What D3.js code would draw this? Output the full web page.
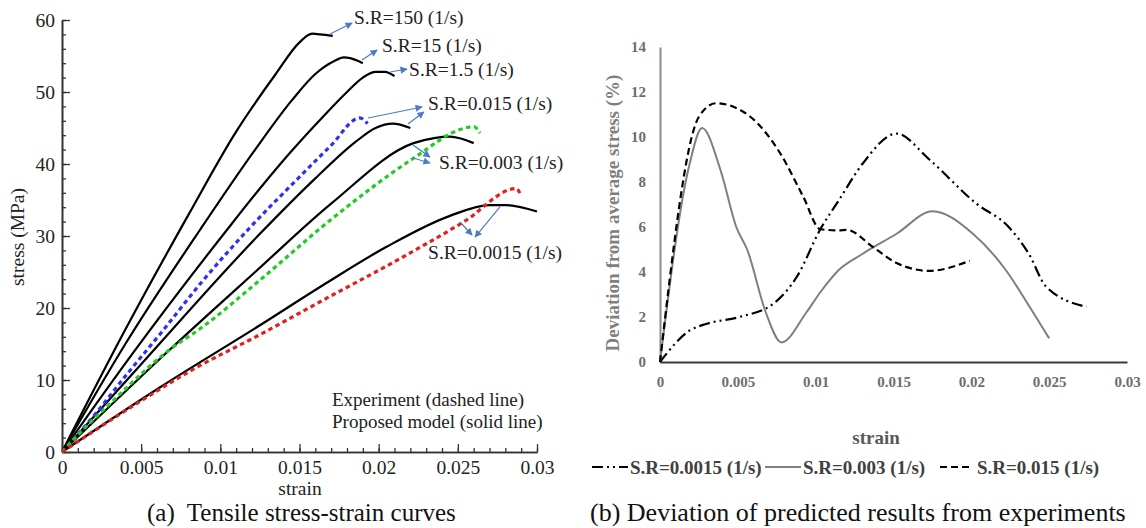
<!DOCTYPE html>
<html>
<head>
<meta charset="utf-8">
<script src="https://cdn.jsdelivr.net/npm/d3@7"></script>
<style>
  body { margin: 0; background: #fff; }
  svg { display: block; font-family: "Liberation Serif", "Times New Roman", serif; }
</style>
</head>
<body>
<svg id="chart" width="1146" height="528"></svg>
<script>
// ---------- panel (a): tensile stress-strain curves ----------
// proposed model (solid lines)
var model150Strain = [0, 0.004, 0.008, 0.011, 0.0135, 0.015, 0.0158, 0.0163, 0.0171];
var model150Stress = [0, 17.0, 33.0, 44.5, 52.5, 56.9, 58.1, 58.0, 57.8];
var model15Strain = [0, 0.004, 0.0087, 0.0122, 0.0145, 0.016, 0.0172, 0.0178, 0.0182, 0.019];
var model15Stress = [0, 15.0, 30.8, 42.0, 48.8, 52.5, 54.3, 54.8, 54.7, 54.0];
var model1p5Strain = [0, 0.0045, 0.0104, 0.0125, 0.0145, 0.0165, 0.018, 0.019, 0.0198, 0.0204, 0.021];
var model1p5Stress = [0, 13.8, 30.8, 36.6, 41.8, 46.6, 50.0, 52.0, 52.8, 52.8, 52.2];
var model015Strain = [0, 0.005, 0.0125, 0.016, 0.0185, 0.0198, 0.0209, 0.022];
var model015Stress = [0, 12.2, 30.3, 38.0, 43.0, 45.0, 45.6, 45.0];
var model003Strain = [0, 0.0068, 0.0122, 0.017, 0.0222, 0.0235, 0.0245, 0.026];
var model003Stress = [0, 14.2, 25.0, 34.5, 42.9, 43.6, 43.8, 42.9];
var model0015Strain = [0, 0.0062, 0.0125, 0.0165, 0.0205, 0.0245, 0.027, 0.028, 0.03];
var model0015Stress = [0, 9.0, 17.6, 23.2, 28.5, 32.8, 34.3, 34.3, 33.4];

// experiment (dashed lines)
var exp015Strain = [0, 0.002, 0.0041, 0.0062, 0.0089, 0.0118, 0.015, 0.017, 0.0188, 0.0193];
var exp015Stress = [0, 5.0, 10.8, 16.4, 23.8, 31.0, 38.2, 42.6, 46.4, 45.6];
var exp003Strain = [0, 0.0011, 0.0026, 0.0068, 0.0089, 0.0123, 0.017, 0.0222, 0.0253, 0.026, 0.0264];
var exp003Stress = [0, 2.6, 5.8, 14.2, 17.4, 23.5, 32.3, 40.8, 44.9, 45.2, 44.3];
var exp0015Strain = [0, 0.0047, 0.0083, 0.0125, 0.0165, 0.0213, 0.0254, 0.0287, 0.029];
var exp0015Stress = [0, 6.7, 11.5, 16.3, 21.1, 26.8, 32.0, 36.6, 35.5];

// annotation labels: text, anchor strain, anchor stress
var rateLabels = ["S.R=150 (1/s)", "S.R=15 (1/s)", "S.R=1.5 (1/s)", "S.R=0.015 (1/s)", "S.R=0.003 (1/s)", "S.R=0.0015 (1/s)"];
var rateLabelStrain = [0.01844, 0.02021, 0.02192, 0.02312, 0.02381, 0.02312];
var rateLabelStress = [60.4, 56.5, 53.2, 48.5, 40.3, 27.8];
// arrows: [from strain, from stress, to strain, to stress]
var arrows = [
  [0.01693, 58.06, 0.01832, 59.58],
  [0.01895, 54.44, 0.0199, 55.83],
  [0.02072, 52.78, 0.02179, 53.19],
  [0.01933, 46.39, 0.02274, 47.92],
  [0.02185, 45.56, 0.02286, 47.22],
  [0.02217, 42.64, 0.02324, 40.97],
  [0.02217, 40.83, 0.02324, 40.14],
  [0.02514, 31.94, 0.0259, 30.14],
  [0.02766, 34.03, 0.02609, 29.86]
];

var xTicksA = [0, 0.005, 0.01, 0.015, 0.02, 0.025, 0.03];
var xTickLabelsA = ["0", "0.005", "0.01", "0.015", "0.02", "0.025", "0.03"];
var yTicksA = [0, 10, 20, 30, 40, 50, 60];

// ---------- panel (b): deviation from average stress ----------
var dev0015Strain = [0, 0.0019, 0.003, 0.0051, 0.0073, 0.0088, 0.0103, 0.0115, 0.013, 0.0152, 0.0173, 0.0203, 0.0224, 0.0237, 0.0248, 0.0274];
var dev0015Value = [0, 1.4, 1.7, 2.0, 2.6, 3.8, 5.9, 7.2, 8.8, 10.15, 9.0, 7.05, 6.0, 4.8, 3.35, 2.45];
var dev003Strain = [0, 0.0019, 0.0027, 0.0039, 0.0049, 0.0056, 0.0068, 0.0078, 0.0094, 0.0103, 0.0115, 0.013, 0.0152, 0.0175, 0.0201, 0.0222, 0.0237, 0.025];
var dev003Value = [0, 8.8, 10.4, 8.5, 6.0, 5.0, 2.2, 0.87, 2.2, 3.1, 4.1, 4.8, 5.7, 6.7, 5.7, 4.1, 2.5, 1.05];
var dev015Strain = [0, 0.0025, 0.0036, 0.0058, 0.0077, 0.0092, 0.0103, 0.0115, 0.012, 0.0137, 0.0152, 0.0173, 0.0199];
var dev015Value = [0, 10.9, 11.5, 10.9, 9.3, 7.35, 5.9, 5.85, 5.87, 5.1, 4.4, 4.05, 4.5];

var xTicksB = [0, 0.005, 0.01, 0.015, 0.02, 0.025, 0.03];
var xTickLabelsB = ["0", "0.005", "0.01", "0.015", "0.02", "0.025", "0.03"];
var yTicksB = [0, 2, 4, 6, 8, 10, 12, 14];
var legendNames = ["S.R=0.0015 (1/s)", "S.R=0.003 (1/s)", "S.R=0.015 (1/s)"];

var svg = d3.select("#chart");

// helper to zip two arrays into points
function zip(xs, ys) {
    return xs.map(function (x, i) { return [x, ys[i]]; });
}

// ===== panel (a) =====
var xA = d3.scaleLinear().domain([0, 0.03]).range([62, 537]);
var yA = d3.scaleLinear().domain([0, 60]).range([452, 20]);

var lineA = d3.line()
    .x(d => xA(d[0]))
    .y(d => yA(d[1]))
    .curve(d3.curveMonotoneX);

// minor ticks first (pointing inward)
svg.append("g")
    .attr("transform", "translate(62,0)")
    .call(d3.axisLeft(yA).tickValues(d3.range(0, 61, 2)).tickSize(-4).tickSizeOuter(0).tickFormat(""));
svg.append("g")
    .attr("transform", "translate(0,452)")
    .call(d3.axisBottom(xA).tickValues(d3.range(0, 31, 1).map(d => d / 1000)).tickSize(-4).tickSizeOuter(0).tickFormat(""));

var yAxisA = svg.append("g")
    .attr("transform", "translate(62,0)")
    .call(d3.axisLeft(yA).tickValues(yTicksA).tickSize(-8).tickSizeOuter(0).tickPadding(7));
var xAxisA = svg.append("g")
    .attr("transform", "translate(0,452)")
    .call(d3.axisBottom(xA).tickValues(xTicksA).tickSize(-8).tickSizeOuter(0).tickPadding(8)
        .tickFormat((d, i) => xTickLabelsA[i]));

svg.selectAll("g").selectAll("path.domain").attr("stroke", "#333").attr("stroke-width", 1.6);
svg.selectAll("g").selectAll(".tick line").attr("stroke", "#333").attr("stroke-width", 1.3);
[yAxisA, xAxisA].forEach(function (ax) {
    ax.attr("font-family", null);
    ax.selectAll("text")
        .attr("fill", "#222")
        .style("font-size", "19.5px");
});

// model curves (solid black)
var models = [
    zip(model150Strain, model150Stress),
    zip(model15Strain, model15Stress),
    zip(model1p5Strain, model1p5Stress),
    zip(model015Strain, model015Stress),
    zip(model003Strain, model003Stress),
    zip(model0015Strain, model0015Stress)
];
models.forEach(function (pts) {
    svg.append("path")
        .attr("d", lineA(pts))
        .attr("fill", "none")
        .attr("stroke", "#000")
        .attr("stroke-width", 2.2);
});

// experiment curves (coloured dashes)
var exps = [
    { pts: zip(exp015Strain, exp015Stress), color: "#2f2ff5" },
    { pts: zip(exp003Strain, exp003Stress), color: "#1fcc1f" },
    { pts: zip(exp0015Strain, exp0015Stress), color: "#e41d1d" }
];
exps.forEach(function (e) {
    svg.append("path")
        .attr("d", lineA(e.pts))
        .attr("fill", "none")
        .attr("stroke", e.color)
        .attr("stroke-width", 3.2)
        .attr("stroke-dasharray", "4.5,3.5");
});

// arrow marker
svg.append("defs").append("marker")
    .attr("id", "arrowHead")
    .attr("viewBox", "0 0 10 10")
    .attr("refX", 9).attr("refY", 5)
    .attr("markerWidth", 7).attr("markerHeight", 6)
    .attr("orient", "auto")
    .append("path")
    .attr("d", "M0,0 L10,5 L0,10 z")
    .attr("fill", "#4a7cc4");

arrows.forEach(function (a) {
    svg.append("line")
        .attr("x1", xA(a[0])).attr("y1", yA(a[1]))
        .attr("x2", xA(a[2])).attr("y2", yA(a[3]))
        .attr("stroke", "#4a7cc4")
        .attr("stroke-width", 1.2)
        .attr("marker-end", "url(#arrowHead)");
});

rateLabels.forEach(function (t, i) {
    svg.append("text")
        .attr("x", xA(rateLabelStrain[i]))
        .attr("y", yA(rateLabelStress[i]))
        .attr("dy", "0.35em")
        .attr("fill", "#222")
        .style("font-size", "19.5px")
        .text(t);
});

// note text
svg.append("text")
    .attr("x", 332).attr("y", 406)
    .attr("fill", "#222")
    .style("font-size", "19px")
    .text("Experiment (dashed line)");
svg.append("text")
    .attr("x", 332).attr("y", 428)
    .attr("fill", "#222")
    .style("font-size", "19px")
    .text("Proposed model (solid line)");

// axis titles
svg.append("text")
    .attr("x", 300).attr("y", 495)
    .attr("text-anchor", "middle")
    .attr("fill", "#222")
    .style("font-size", "19.5px")
    .text("strain");
svg.append("text")
    .attr("transform", "translate(24,237) rotate(-90)")
    .attr("text-anchor", "middle")
    .attr("fill", "#222")
    .style("font-size", "19.5px")
    .text("stress (MPa)");

svg.append("text")
    .attr("x", 147).attr("y", 521)
    .attr("fill", "#111")
    .style("font-size", "25px")
    .style("white-space", "pre")
    .text("(a)  Tensile stress-strain curves");

// ===== panel (b) =====
var xB = d3.scaleLinear().domain([0, 0.03]).range([660, 1127]);
var yB = d3.scaleLinear().domain([0, 14]).range([362, 47]);

var lineB = d3.line()
    .x(d => xB(d[0]))
    .y(d => yB(d[1]))
    .curve(d3.curveMonotoneX);

var yAxisB = svg.append("g")
    .attr("transform", "translate(660,0)")
    .call(d3.axisLeft(yB).tickValues(yTicksB).tickSize(0).tickPadding(14));
yAxisB.select("path.domain").attr("stroke", "#8a8a8a").attr("stroke-width", 2);

var xAxisB = svg.append("g")
    .attr("transform", "translate(0,362)")
    .call(d3.axisBottom(xB).tickValues(xTicksB).tickSize(0).tickPadding(14)
        .tickFormat((d, i) => xTickLabelsB[i]));
xAxisB.select("path.domain").attr("stroke", "#3a3a3a").attr("stroke-width", 2);

[yAxisB, xAxisB].forEach(function (ax) {
    ax.attr("font-family", null);
    ax.selectAll("text")
        .attr("fill", "#6e6e6e")
        .style("font-size", "15px")
        .style("font-weight", "bold");
});

var devSeries = [
    { pts: zip(dev0015Strain, dev0015Value), color: "#000", dash: "11,4,2,4,2,4", width: 2.2 },
    { pts: zip(dev003Strain, dev003Value), color: "#7f7f7f", dash: null, width: 2 },
    { pts: zip(dev015Strain, dev015Value), color: "#000", dash: "7,4", width: 2.2 }
];
devSeries.forEach(function (s) {
    svg.append("path")
        .attr("d", lineB(s.pts))
        .attr("fill", "none")
        .attr("stroke", s.color)
        .attr("stroke-width", s.width)
        .attr("stroke-dasharray", s.dash);
});

svg.append("text")
    .attr("transform", "translate(619,213) rotate(-90)")
    .attr("text-anchor", "middle")
    .attr("fill", "#7f7f7f")
    .style("font-size", "19px")
    .style("font-weight", "bold")
    .text("Deviation from average stress (%)");

svg.append("text")
    .attr("x", 876).attr("y", 444)
    .attr("text-anchor", "middle")
    .attr("fill", "#595959")
    .style("font-size", "19px")
    .style("font-weight", "bold")
    .text("strain");

// legend
var legendX = [592, 765, 940];
var legendLen = [36, 36, 32];
legendNames.forEach(function (name, i) {
    var s = devSeries[i];
    svg.append("line")
        .attr("x1", legendX[i]).attr("x2", legendX[i] + legendLen[i])
        .attr("y1", 467).attr("y2", 467)
        .attr("stroke", s.color)
        .attr("stroke-width", s.width)
        .attr("stroke-dasharray", s.dash);
    svg.append("text")
        .attr("x", legendX[i] + legendLen[i] + (i == 2 ? 5 : 2))
        .attr("y", 467)
        .attr("dy", "0.35em")
        .attr("fill", "#404040")
        .style("font-size", "19px")
        .style("font-weight", "bold")
        .text(name);
});

svg.append("text")
    .attr("x", 590).attr("y", 521)
    .attr("fill", "#111")
    .style("font-size", "26px")
    .text("(b) Deviation of predicted results from experiments");
</script>
</body>
</html>
